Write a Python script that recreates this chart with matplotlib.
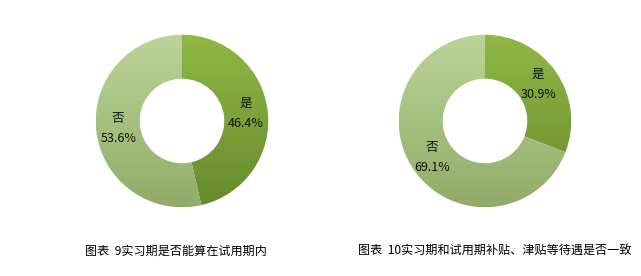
import matplotlib
matplotlib.use("Agg")
import matplotlib.pyplot as plt
import numpy as np
from matplotlib.colors import LinearSegmentedColormap

plt.rcParams['font.family'] = ['Noto Sans CJK SC', 'DejaVu Sans']

labels = ["是", "否"]
values1 = [46.4, 53.6]
values2 = [30.9, 69.1]
title1 = "图表  9实习期是否能算在试用期内"
title2 = "图表  10实习期和试用期补贴、津贴等待遇是否一致"

grad_yes = ("#8fb846", "#688a2c")
grad_no = ("#bad597", "#92ab69")

W, H = 641, 276
fig = plt.figure(figsize=(W / 100, H / 100), dpi=100)


def donut(cx, cy, r, values, title, tx, ty):
    ax = fig.add_axes([(cx - r) / W, (H - cy - r) / H, 2 * r / W, 2 * r / H])
    wedges, _ = ax.pie(values, startangle=90, counterclock=False, radius=1,
                       wedgeprops=dict(width=0.51, linewidth=0, edgecolor='none'),
                       colors=['none', 'none'])
    ax.set_aspect('equal')
    ax.axis('off')
    for w, g in zip(wedges, [grad_yes, grad_no]):
        cmap = LinearSegmentedColormap.from_list('g', [g[1], g[0]])
        grad = np.linspace(0, 1, 256).reshape(-1, 1)
        im = ax.imshow(grad, extent=[-1, 1, -1, 1], origin='lower', cmap=cmap,
                       aspect='auto', zorder=1)
        im.set_clip_path(w)
    ax.set_xlim(-1.02, 1.02)
    ax.set_ylim(-1.02, 1.02)
    total = sum(values)
    start = 90
    for lab, v in zip(labels, values):
        ang = np.deg2rad(start - v / total * 360 / 2)
        start -= v / total * 360
        rr = 0.745
        x, y = rr * np.cos(ang), rr * np.sin(ang)
        ax.text(x, y, f"{lab}\n{v:.1f}%", ha='center', va='center', fontsize=9,
                linespacing=1.75, color='#111111', zorder=3)
    fig.text(tx / W, 1 - ty / H, title, ha='center', va='center', fontsize=8.7,
             color='black')


donut(182, 121, 88, values1, title1, 176, 251)
donut(485, 121, 88, values2, title2, 495, 251)

fig.savefig("out.png", dpi=100, facecolor='white')
